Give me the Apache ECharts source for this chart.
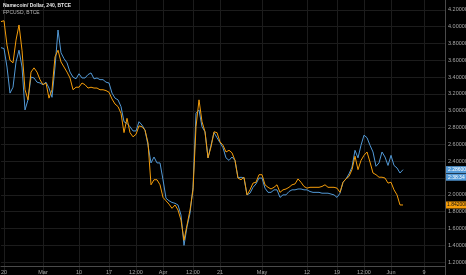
<!DOCTYPE html>
<html>
<head>
<meta charset="utf-8">
<script src="https://cdn.jsdelivr.net/npm/echarts@6/dist/echarts.min.js"></script>
<style>html,body{margin:0;padding:0;background:#000;}#c{width:466px;height:275px;}</style>
</head>
<body>
<div id="c"></div>
<script>
// NMC/USD (blue) and FPC/USD (orange), 240-minute bars, sampled
const nmcValues = [3.75,3.74,3.52,3.21,3.28,3.58,3.72,3.52,3.01,3.13,
  3.40,3.39,3.34,3.33,3.31,3.34,3.27,3.16,3.52,3.96,
  3.69,3.62,3.57,3.46,3.40,3.38,3.44,3.39,3.39,3.43,
  3.45,3.38,3.39,3.37,3.37,3.34,3.33,3.21,3.15,3.13,
  3.05,2.87,2.85,2.81,2.76,2.76,2.87,2.83,2.77,2.59,
  2.38,2.45,2.38,2.38,2.18,1.96,1.93,1.91,1.90,1.88,
  1.76,1.40,1.62,1.78,2.09,2.97,3.01,2.81,2.75,2.44,
  2.59,2.74,2.68,2.62,2.56,2.44,2.41,2.45,2.41,2.20,
  2.21,2.20,2.00,2.02,2.09,2.13,2.20,2.20,2.08,2.03,
  2.03,2.06,2.06,1.97,2.00,2.00,2.04,2.06,2.06,2.07,
  2.07,2.06,2.06,2.04,2.03,2.03,2.03,2.02,2.02,2.02,
  2.01,2.00,1.97,2.02,2.15,2.19,2.25,2.33,2.53,2.44,
  2.59,2.71,2.68,2.59,2.51,2.34,2.38,2.51,2.45,2.35,
  2.47,2.35,2.32,2.26,2.30];
const fpcValues = [4.06,4.07,3.78,3.60,3.57,3.84,4.02,3.72,3.25,3.13,
  3.46,3.51,3.46,3.37,3.31,3.33,3.15,3.25,3.64,3.72,
  3.58,3.52,3.46,3.39,3.25,3.28,3.28,3.33,3.31,3.27,
  3.28,3.27,3.27,3.25,3.25,3.24,3.22,3.14,3.08,3.05,
  2.97,2.74,2.91,2.74,2.69,2.72,2.82,2.81,2.77,2.62,
  2.12,2.18,2.18,2.12,1.97,1.93,1.89,1.84,1.88,1.82,
  1.70,1.46,1.64,1.82,2.06,2.81,3.13,2.87,2.75,2.44,
  2.57,2.75,2.74,2.63,2.59,2.51,2.53,2.50,2.41,2.20,
  2.18,2.21,2.00,2.06,2.14,2.15,2.24,2.24,2.12,2.09,
  2.07,2.09,2.12,2.03,2.06,2.07,2.09,2.12,2.13,2.19,
  2.15,2.10,2.08,2.09,2.09,2.09,2.09,2.10,2.12,2.09,
  2.09,2.09,2.08,2.03,2.15,2.19,2.22,2.30,2.46,2.30,
  2.41,2.47,2.51,2.39,2.26,2.24,2.21,2.21,2.20,2.14,
  2.15,2.06,2.00,1.88,1.88];
const slotCount = 149;               // bar slots across the time axis (incl. empty future)
const tickIdx = [1,14,26,36,45,54,64,73,87,102,112,121,130,141];
const tickLabels = ['20','Mar','10','17','12:00','Apr','12:00','21','May','12','19','12:00','Jun','9'];
const nmcLastLabel = '2.28600';
const countdownLabel = '2:38:34';
const fpcLastLabel = '1.842000';
const titleMain = 'Namecoin/ Dollar, 240, BTCE';
const titleSub = 'FPCUSD, BTCE';

const cats = [];
for (let i = 0; i < slotCount; i++) cats.push(String(i));

const BLUE = '#5299d6', ORANGE = '#f59d0a';
const FONT = 'Liberation Sans';
const chart = echarts.init(document.getElementById('c'), null, {renderer: 'canvas'});
const isTick = (i) => tickIdx.indexOf(i) >= 0;
const lastN = nmcValues[nmcValues.length - 1];
const lastF = fpcValues[fpcValues.length - 1];
const hidden = {width: 0, color: 'rgba(0,0,0,0)'};

chart.setOption({
  backgroundColor: '#000',
  animation: false,
  title: {
    text: titleMain, subtext: titleSub, left: 3, top: 3, padding: 0, itemGap: 2,
    textStyle: {fontSize: 5, color: '#e6e6e6', fontWeight: 'bold', fontFamily: FONT},
    subtextStyle: {fontSize: 5, color: '#b5b5b5', fontFamily: FONT}
  },
  grid: {left: 1, right: 21, top: -7, bottom: -4, containLabel: false, outerBoundsMode: 'none'},
  xAxis: {
    type: 'category', data: cats, boundaryGap: false, offset: -13,
    axisLine: {show: true, lineStyle: {color: '#4a4a4a', width: 1}},
    axisTick: {show: false},
    axisLabel: {
      interval: (i) => isTick(i), margin: 3, fontSize: 5.5, color: '#a8a8a8', fontFamily: FONT,
      formatter: (v, i) => { const k = tickIdx.indexOf(Number(v)); return k >= 0 ? tickLabels[k] : ''; }
    },
    splitLine: {show: true, interval: (i) => isTick(i), lineStyle: {color: '#1c1c1c', width: 1}}
  },
  yAxis: {
    type: 'value', position: 'right', min: 1.0, max: 4.4, interval: 0.2,
    axisLine: {show: true, lineStyle: {color: '#4a4a4a', width: 1}},
    axisTick: {show: false},
    axisLabel: {margin: 3, fontSize: 5.5, color: '#a8a8a8', fontFamily: FONT,
      showMaxLabel: false, showMinLabel: false,
      formatter: (v) => v.toFixed(5)},
    splitLine: {show: true, lineStyle: {color: '#1c1c1c', width: 1}}
  },
  series: [
    {
      name: 'NMC', type: 'line', data: nmcValues, showSymbol: false, smooth: false,
      lineStyle: {color: BLUE, width: 1}, itemStyle: {color: BLUE}, z: 2,
      markLine: {
        silent: true, symbol: 'none', lineStyle: hidden,
        label: {show: true, position: 'end', distance: 1, fontSize: 5, fontFamily: FONT, color: '#fff',
          backgroundColor: BLUE, padding: [1, 2, 1, 2]},
        data: [
          {yAxis: lastN, lineStyle: hidden, label: {show: true, formatter: nmcLastLabel}},
          {yAxis: lastN - 0.085, lineStyle: hidden, label: {show: true, formatter: countdownLabel}}
        ]
      }
    },
    {
      name: 'FPC', type: 'line', data: fpcValues, showSymbol: false, smooth: false,
      lineStyle: {color: ORANGE, width: 1}, itemStyle: {color: ORANGE}, z: 3,
      markLine: {
        silent: true, symbol: 'none', lineStyle: hidden,
        label: {show: true, position: 'end', distance: 1, fontSize: 5, fontFamily: FONT, color: '#111',
          backgroundColor: ORANGE, padding: [1, 1, 1, 1]},
        data: [{yAxis: lastF, lineStyle: hidden, label: {show: true, formatter: fpcLastLabel}}]
      }
    }
  ]
});
</script>
</body>
</html>
